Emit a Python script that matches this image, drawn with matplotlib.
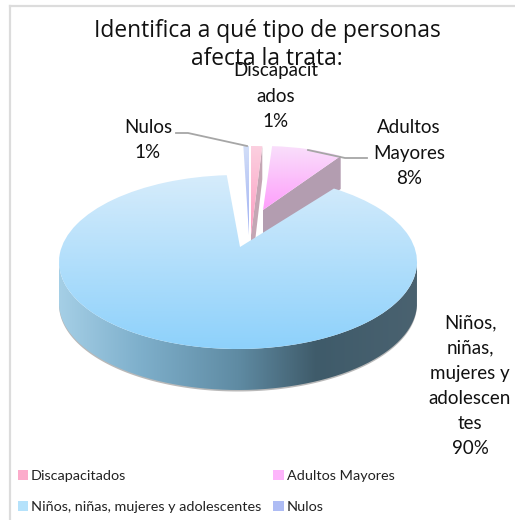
"""
pie chart, fake 3d look with gradients: tipo de personas afectadas por la trata
"""

import numpy as np
import matplotlib as mpl
mpl.use('Agg')
from matplotlib import pyplot as plt
from matplotlib.colors import LinearSegmentedColormap as lsc
from matplotlib.patches import PathPatch, Patch, Polygon
from matplotlib.path import Path

title = 'Identifica a qué tipo de personas\nafecta la trata:'
categories = ['Discapacitados', 'Adultos Mayores', 'Niños, niñas, mujeres y adolescentes', 'Nulos']
values = [1, 8, 90, 1]
label_names = ['Discapacit\nados', 'Adultos\nMayores', 'Niños,\nniñas,\nmujeres y\nadolescen\ntes', 'Nulos']
top_colors = ['#fcd0e0', '#f9dffb', '#d6ecfb', '#d2def8']
bottom_colors = ['#fb9cc0', '#fe9efb', '#8dd1fb', '#9fb0f2']
legend_colors = ['#fcaccb', '#fdb5fb', '#b5e2fb', '#aebcf4']

# pixel placement of each slice: apex x, apex y, radius x, radius y, zorder
placement = [(251, 235, 180, 89, 4), (263, 210, 145, 64, 4), (240, 247, 179, 87, 5), (249, 235, 90, 89, 4)]
wall_colors = ['#c4a6b4', '#b39db0', None, '#7d8498']
label_pos = [(276, 96), (409, 153), (470, 386), (148, 140)]
cx, cy, rx, ry, depth = 238, 262, 179, 87, 41


def gradient_fill(ax, path, c1, c2, box, z, horizontal=False):
    cmap = lsc.from_list('g', [c1, c2]) if isinstance(c1, str) else lsc.from_list('g', c1)
    grad = np.linspace(0, 1, 256)
    grad = grad[None, :] if horizontal else grad[:, None]
    im = ax.imshow(grad, cmap=cmap, extent=box, aspect='auto', zorder=z, origin='upper')
    clip = PathPatch(path, transform=ax.transData, fc='none', ec='none')
    im.set_clip_path(clip)


def setup_figure():
    plt.rcParams.update({'font.family': ['Lato', 'DejaVu Sans']})
    fig = plt.figure(figsize=(5.15, 5.2), dpi=100)
    ax = fig.add_axes([0, 0, 1, 1])
    wedges, _ = ax.pie(values, startangle=90, counterclock=False, radius=1)

    for i, w in enumerate(wedges):
        w.set_visible(False)
        apx, apy, wrx, wry, z = placement[i]
        unit = w.get_path()
        verts = unit.vertices.copy()
        if i == 2:
            # main slice rim sits on the ellipse, only its apex is pulled up
            is_apex = np.all(np.isclose(verts, 0), axis=1)
            px = np.column_stack([cx + rx * verts[:, 0], cy - ry * verts[:, 1]])
            px[is_apex] = [apx, apy]
        else:
            px = np.column_stack([apx + wrx * verts[:, 0], apy - wry * verts[:, 1]])
        path = Path(px, unit.codes)
        box = (px[:, 0].min(), px[:, 0].max(), px[:, 1].max(), px[:, 1].min())
        gradient_fill(ax, path, top_colors[i], bottom_colors[i], box, z)
        if wall_colors[i]:
            # cut face below the right edge of the small slices
            a = np.radians(w.theta1)
            rim = (apx + wrx * np.cos(a), apy - wry * np.sin(a))
            ax.add_patch(Polygon([(apx, apy), rim, (rim[0], rim[1] + depth - 8),
                                  (apx, apy + depth)], fc=wall_colors[i], ec='none', zorder=3))

    # front wall of the big slice
    t = np.radians(np.linspace(180, 360, 200))
    xs = cx + rx * np.cos(t)
    ys = cy - ry * np.sin(t)
    wall = np.vstack([np.column_stack([xs, ys]), np.column_stack([xs[::-1], ys[::-1] + depth])])
    ax.add_patch(Polygon(wall + [0, 1.5], fc='#b9b9b9', ec='none', zorder=1.5))
    wall_cmap = [(0, '#a5cfe6'), (0.22, '#7fb0cc'), (0.5, '#5f8ba3'), (0.72, '#3f5b6a'), (1, '#4a6270')]
    gradient_fill(ax, Path(wall), wall_cmap, None, (cx - rx, cx + rx, cy + ry + depth, cy - ry), 2, horizontal=True)

    # frame of the chart area
    ax.plot([10, 10], [6, 520], color='#dcdcdc', lw=1.6, zorder=1)
    ax.plot([10, 515], [6, 6], color='#dcdcdc', lw=1.6, zorder=1)

    # leader lines
    ax.plot([176, 188, 247], [133, 133, 146], color='#a6a6a6', lw=1.3, zorder=6)
    ax.plot([308, 345, 367], [150, 158, 158], color='#a6a6a6', lw=1.3, zorder=6)

    ax.text(267, 45, title, ha='center', va='center', fontsize=16.4, linespacing=1.18, color='#111111', zorder=7,
            family=['Open Sans', 'DejaVu Sans'])
    for i, (x, y) in enumerate(label_pos):
        ax.text(x, y, '%s\n%d%%' % (label_names[i], values[i]), ha='center', va='center',
                fontsize=13.5, linespacing=1.58, color='#111111', zorder=8)

    handles = [Patch(fc=c, ec='none') for c in legend_colors]
    order = [0, 2, 1, 3]
    ax.legend([handles[i] for i in order], [categories[i] for i in order], ncols=2, frameon=False,
              loc='lower left', bbox_to_anchor=(0.009, -0.012), fontsize=10.4, handlelength=0.7, handleheight=0.7,
              handletextpad=0.22, columnspacing=0.85, labelspacing=1.3, labelcolor='#222222')

    ax.set_xlim(0, 515)
    ax.set_ylim(520, 0)
    ax.axis('off')
    fig.savefig('out.png', dpi=100)


if __name__ == "__main__":
    setup_figure()
